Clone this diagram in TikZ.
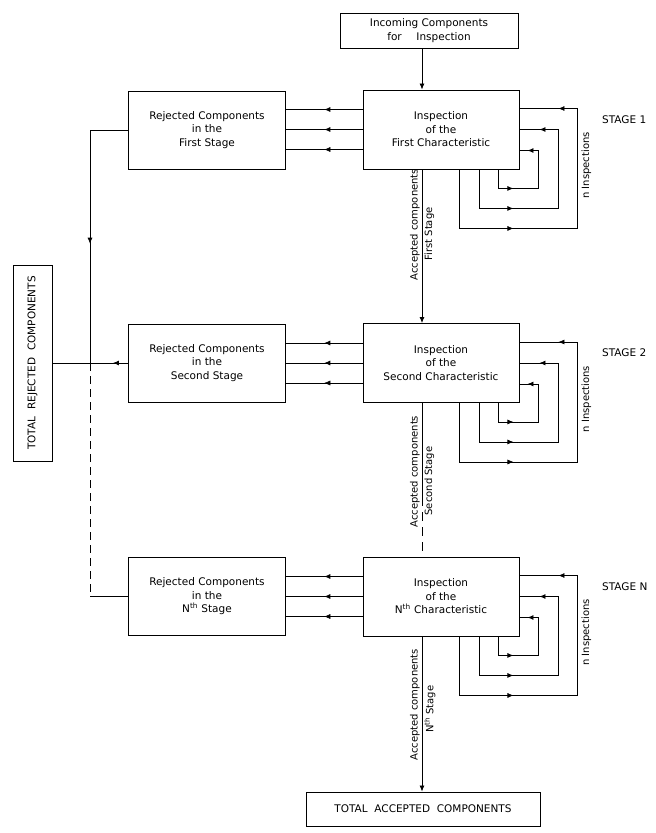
\documentclass[tikz,border=0pt]{standalone}
\usepackage{fontspec}
\setmainfont{DejaVu Sans}
\usetikzlibrary{arrows.meta,calc,decorations.markings}

\begin{document}
\begin{tikzpicture}[x=1pt, y=-1pt, line width=0.8pt,
  font=\fontsize{10.5}{13.5}\selectfont,
  stagebox/.style={draw, line width=0.9pt, align=center, inner sep=2pt},
  inspbox/.style={stagebox, minimum width=156pt, minimum height=79pt},
  rejbox/.style={stagebox, minimum width=157pt, minimum height=78pt},
  arr/.style={-{Latex[length=6pt,width=5pt]}},
  midarr/.style={postaction={decorate}, decoration={markings,
    mark=at position #1 with {\arrow{Latex[length=6pt,width=5pt]}}}},
  recheck/.style 2 args={postaction={decorate}, decoration={markings,
    mark=at position #1 with {\arrow{Latex[length=6pt,width=5pt]}},
    mark=at position #2 with {\arrow{Latex[length=6pt,width=5pt]}}}},
  vlabel/.style={rotate=90, inner sep=2pt, font=\fontsize{10}{12}\selectfont}]
  \useasboundingbox (0,0) rectangle (656,833);

  % Boxes
  \node[stagebox, minimum width=178pt, minimum height=35pt] (inc) at (429,30.5)
    {Incoming Components\\for\hspace{1.4em}Inspection};
  \node[inspbox] (insp1) at (441,129.5) {Inspection\\of the\\First Characteristic};
  \node[inspbox] (insp2) at (441,363) {Inspection\\of the\\Second Characteristic};
  \node[inspbox] (inspN) at (441,596.5)
    {Inspection\\of the\\N\textsuperscript{th} Characteristic};
  \node[rejbox] (rej1) at (207,130) {Rejected Components\\in the\\First Stage};
  \node[rejbox] (rej2) at (207,363) {Rejected Components\\in the\\Second Stage};
  \node[rejbox] (rejN) at (207,596.5) {Rejected Components\\in the\\N\textsuperscript{th} Stage};
  \node[stagebox, rotate=90, minimum width=196pt, minimum height=39pt] (totrej) at (32.5,363)
    {TOTAL\ \ REJECTED\ \ COMPONENTS};
  \node[stagebox, minimum width=234pt, minimum height=34pt] (totacc) at (423,809)
    {TOTAL\ \ ACCEPTED\ \ COMPONENTS};

  \coordinate (mainx) at (422,0);
  \coordinate (colx) at (90,0);
  \coordinate (brk) at (422,497);

  % Accepted components, down the middle
  \draw[arr] (inc.south -| mainx) -- (insp1.north -| mainx);
  \draw[arr] (insp1.south -| mainx)
    -- node[vlabel, pos=0.36, anchor=south] {Accepted components}
       node[vlabel, pos=0.42, anchor=north] {First Stage}
    (insp2.north -| mainx);
  \draw (insp2.south -| mainx)
    -- node[vlabel, pos=0.73, anchor=south] {Accepted components}
       node[vlabel, pos=0.83, anchor=north] {Second Stage}
    (brk);
  \draw[dash pattern=on 9pt off 6pt] (brk) -- (inspN.north -| mainx);
  \draw[arr] (inspN.south -| mainx)
    -- node[vlabel, pos=0.44, anchor=south] {Accepted components}
       node[vlabel, pos=0.47, anchor=north] {N\textsuperscript{th} Stage}
    (totacc.north -| mainx);

  % Rejected components, to the left
  \draw[midarr=0.56] (rej1.west) -| (rej2.west -| colx);
  \draw[midarr=0.2] (rej2.west) -- (totrej.south);
  \draw[line width=0.5pt, dash pattern=on 8pt off 5pt] (rej2.west -| colx) -- (rejN.west -| colx);
  \draw (rejN.west -| colx) -- (rejN.west);

  % Each stage: rejects, n inspections
  \foreach \s/\lbl in {1/1, 2/2, N/N} {
    \draw[midarr=0.5] ($(insp\s.west)+(0,-20)$) -- ($(insp\s.west -| rej\s.east)+(0,-20)$);
    \draw[midarr=0.5] (insp\s.west) -- (insp\s.west -| rej\s.east);
    \draw[midarr=0.5, line width=0.5pt] ($(insp\s.west)+(0,20)$) -- ($(insp\s.west -| rej\s.east)+(0,20)$);
    \draw[recheck={34pt}{-8pt}] ($(insp\s.south east)+(-21,0)$) -- ++(0,19)
      -| ($(insp\s.east)+(19,21)$) -- ($(insp\s.east)+(0,21)$);
    \draw[recheck={73pt}{-20pt}] ($(insp\s.south east)+(-40,0)$) -- ++(0,39)
      -| ($(insp\s.east)+(39,0)$) -- (insp\s.east);
    \draw[recheck={113pt}{-39pt}, line width=0.6pt] ($(insp\s.south east)+(-60,0)$) -- ++(0,59)
      -| ($(insp\s.east)+(58,-21)$) -- ($(insp\s.east)+(0,-21)$);
    \node[vlabel] (ninsp\s) at ($(insp\s.east)+(67,36)$) {n Inspections};
    \node[anchor=west] (stage\s) at ($(insp\s.east)+(79,-10)$) {STAGE \lbl};
  }
\end{tikzpicture}
\end{document}
